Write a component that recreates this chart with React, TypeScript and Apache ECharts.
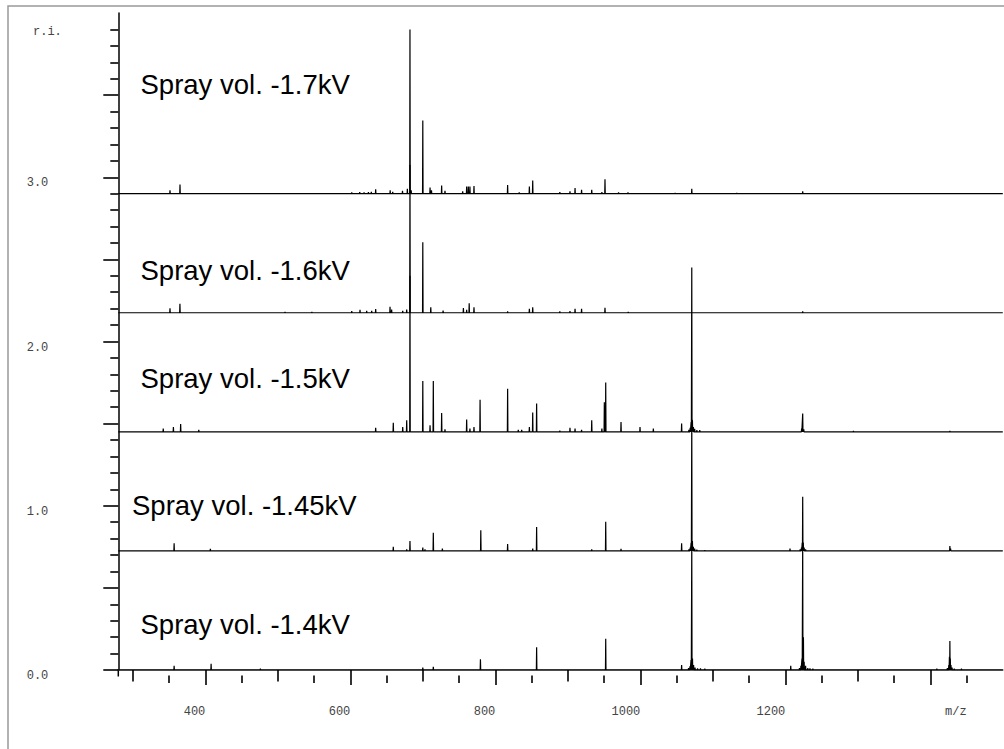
import React, { useEffect, useRef } from "react";
import * as echarts from "echarts";

// ---- data ----
const spectrumLabels = [
  "Spray vol. -1.7kV",
  "Spray vol. -1.6kV",
  "Spray vol. -1.5kV",
  "Spray vol. -1.45kV",
  "Spray vol. -1.4kV",
];
// vertical stacking offset of each spectrum (r.i. units)
const spectrumOffsets = [2.9, 2.175, 1.45, 0.725, 0];

// [m/z, relative intensity above own baseline]
const peaks17: [number, number][] = [
  [351.3, 0.02], [365.1, 0.055], [602, 0.008], [613, 0.01], [619, 0.008], [625, 0.01], [629, 0.012],
  [635, 0.026], [655, 0.02], [658.5, 0.012], [672, 0.018], [678.7, 0.03], [682.3, 1.0], [684, 0.02],
  [700, 0.446], [710, 0.037], [712, 0.02], [726, 0.05], [730.6, 0.018], [755, 0.015], [760.5, 0.043],
  [762.8, 0.043], [765, 0.043], [770.6, 0.047], [817, 0.053], [833, 0.008], [847, 0.043], [851.6, 0.08],
  [889, 0.01], [903, 0.015], [910, 0.035], [919, 0.024], [933, 0.024], [947, 0.01], [951.3, 0.087],
  [970, 0.008], [983, 0.008], [1048, 0.005], [1071, 0.03], [1133, 0.005], [1224, 0.014],
];
const peaks16: [number, number][] = [
  [351.3, 0.027], [365, 0.054], [510, 0.005], [547, 0.005], [602, 0.01], [613.4, 0.018], [622.6, 0.012],
  [629.5, 0.012], [635, 0.023], [654.8, 0.037], [657, 0.02], [672.3, 0.012], [677.8, 0.02], [682.3, 0.9],
  [700, 0.43], [711, 0.034], [728, 0.014], [756, 0.028], [760.5, 0.018], [764, 0.058], [770.6, 0.034],
  [817, 0.008], [847, 0.024], [851.6, 0.034], [889, 0.008], [903, 0.01], [910, 0.024], [919, 0.024],
  [951.3, 0.031], [983.4, 0.005], [1224, 0.008],
];
const peaks15: [number, number][] = [
  [342, 0.02], [356, 0.03], [366, 0.047], [391, 0.012], [635, 0.025], [659.3, 0.055], [672.3, 0.03],
  [677.8, 0.07], [682.3, 0.95], [700, 0.31], [710, 0.04], [714.5, 0.31], [726, 0.114], [730.6, 0.015],
  [760.5, 0.075], [765, 0.02], [770.6, 0.03], [779, 0.195], [817, 0.262], [831.7, 0.012], [836.4, 0.012],
  [847, 0.03], [851.6, 0.118], [857, 0.172], [889, 0.008], [903, 0.025], [910, 0.02], [919, 0.012],
  [933, 0.07], [947, 0.02], [950.4, 0.18], [952.3, 0.3], [973.4, 0.06], [999.6, 0.03], [1018, 0.02],
  [1057, 0.05], [1067, 0.012], [1068.8, 0.025], [1070.1, 0.06], [1071, 1.0], [1071.9, 0.07],
  [1073.2, 0.03], [1075, 0.018], [1078, 0.01], [1082, 0.01], [1222.5, 0.02], [1224, 0.112],
  [1225.5, 0.015], [1294, 0.005], [1427, 0.005],
];
const peaks145: [number, number][] = [
  [357, 0.046], [407, 0.012], [659.3, 0.025], [677.8, 0.01], [682.3, 0.061], [700, 0.02], [703, 0.01],
  [714.5, 0.11], [727, 0.015], [780, 0.126], [817, 0.042], [851.6, 0.015], [857, 0.146], [933, 0.01],
  [952.3, 0.177], [973.4, 0.012], [1057, 0.046], [1067, 0.01], [1068.8, 0.02], [1070.1, 0.05],
  [1071, 0.8], [1071.9, 0.06], [1073.2, 0.025], [1075, 0.015], [1078, 0.008], [1089, 0.005],
  [1206.5, 0.015], [1220.5, 0.01], [1222.3, 0.02], [1223.3, 0.05], [1224, 0.33], [1224.8, 0.05],
  [1226, 0.02], [1228, 0.01], [1427, 0.03], [1428, 0.015],
];
const peaks14: [number, number][] = [
  [357, 0.025], [408, 0.038], [476, 0.008], [700, 0.015], [714.5, 0.02], [779.5, 0.065], [857, 0.138],
  [952.3, 0.19], [1057, 0.03], [1066.5, 0.012], [1068.5, 0.022], [1070, 0.06], [1071, 0.78],
  [1072, 0.07], [1073.5, 0.03], [1075.5, 0.015], [1079, 0.01], [1083, 0.01], [1089, 0.008],
  [1207.5, 0.025], [1219.5, 0.012], [1221.5, 0.025], [1223, 0.07], [1224, 0.78], [1225, 0.2],
  [1226, 0.05], [1228, 0.025], [1231, 0.012], [1234, 0.01], [1238, 0.008], [1409, 0.008],
  [1423.5, 0.012], [1425.5, 0.03], [1426.4, 0.08], [1427, 0.177], [1427.6, 0.07], [1428.5, 0.03],
  [1430, 0.015], [1433, 0.008], [1443, 0.008],
];
const spectra = [peaks17, peaks16, peaks15, peaks145, peaks14];

const xMin = 280;
const xMax = 1500;
const xMajorTicks = [400, 600, 800, 1000, 1200, 1400];
const xLabelValues = [400, 600, 800, 1000, 1200];
const xMidTicks = [300, 500, 700, 900, 1100, 1300];
const xMinorTicks = [350, 450, 550, 650, 750, 850, 950, 1050, 1150, 1250, 1350, 1450];

const yMin = 0;
const yMax = 4;
const yMajorTicks = [0, 0.5, 1, 1.5, 2, 2.5, 3, 3.5];
const yLabelValues = [0, 1, 2, 3];
const yMinorTicks = [
  0.1, 0.2, 0.3, 0.4, 0.6, 0.7, 0.8, 0.9, 1.1, 1.2, 1.3, 1.4, 1.6, 1.7, 1.8, 1.9,
  2.1, 2.2, 2.3, 2.4, 2.6, 2.7, 2.8, 2.9, 3.1, 3.2, 3.3, 3.4, 3.6, 3.7, 3.8, 3.9,
];

const monoFont = '"Liberation Mono", "Courier New", monospace';
const sansFont = '"Liberation Sans", Arial, Helvetica, sans-serif';

function buildLine(peaks: [number, number][], offset: number) {
  const pts: number[][] = [[xMin, offset]];
  const sorted = [...peaks].sort((a, b) => a[0] - b[0]);
  for (const [mz, h] of sorted) {
    pts.push([mz - 0.35, offset], [mz, offset + h], [mz + 0.35, offset]);
  }
  pts.push([xMax, offset]);
  return pts;
}

const labelPos = [
  { x: 140.5, y: 84 },
  { x: 140.5, y: 270.6 },
  { x: 140.5, y: 378 },
  { x: 132, y: 505.6 },
  { x: 140.5, y: 624 },
];

export default function App() {
  const ref = useRef<HTMLDivElement>(null);
  useEffect(() => {
    if (!ref.current) return;
    const chart = echarts.init(ref.current, null, { renderer: "svg" });

    const baseX = {
      type: "value",
      min: xMin,
      max: xMax,
      position: "bottom",
      offset: 5.5,
      splitLine: { show: false },
    };
    const baseY = {
      type: "value",
      min: yMin,
      max: yMax,
      position: "left",
      splitLine: { show: false },
    };

    const option: any = {
      animation: false,
      backgroundColor: "#ffffff",
      grid: {
        left: 118.3,
        right: 1.2,
        top: 13,
        bottom: 79,
        containLabel: false,
        outerBoundsMode: "none",
      },
      xAxis: [
        {
          ...baseX,
          axisLine: { show: true, lineStyle: { color: "#333", width: 1.5 } },
          axisTick: { show: true, length: 15, customValues: xMajorTicks, lineStyle: { color: "#000", width: 1.6 } },
          axisLabel: {
            show: true,
            customValues: xLabelValues,
            formatter: (v: number) => String(v),
            align: "right",
            margin: 30,
            fontFamily: monoFont,
            fontSize: 12,
            color: "#444",
          },
        },
        {
          ...baseX,
          axisLine: { show: false },
          axisTick: { show: true, length: 11.5, customValues: xMidTicks, lineStyle: { color: "#000", width: 1.6 } },
          axisLabel: { show: false },
        },
        {
          ...baseX,
          axisLine: { show: false },
          axisTick: { show: true, length: 7.5, customValues: xMinorTicks, lineStyle: { color: "#000", width: 1.6 } },
          axisLabel: { show: false },
        },
      ],
      yAxis: [
        {
          ...baseY,
          axisLine: { show: true, lineStyle: { color: "#000", width: 1.5 } },
          axisTick: { show: true, length: 15, customValues: yMajorTicks, lineStyle: { color: "#000", width: 1.6 } },
          axisLabel: {
            show: true,
            customValues: yLabelValues,
            formatter: (v: number) => v.toFixed(1),
            margin: 70,
            verticalAlign: "top",
            fontFamily: monoFont,
            fontSize: 12,
            color: "#444",
          },
        },
        {
          ...baseY,
          axisLine: { show: false },
          axisTick: { show: true, length: 8, customValues: yMinorTicks, lineStyle: { color: "#000", width: 1.6 } },
          axisLabel: { show: false },
        },
      ],
      series: spectra.map((p, i) => ({
        name: spectrumLabels[i],
        type: "line",
        xAxisIndex: 0,
        yAxisIndex: 0,
        data: buildLine(p, spectrumOffsets[i]),
        showSymbol: false,
        symbol: "none",
        lineStyle: { color: "#000", width: 1.2 },
        silent: true,
        clip: true,
      })),
      graphic: [
        {
          type: "rect",
          shape: { x: 8, y: 6, width: 1200, height: 1000 },
          style: { fill: "none", stroke: "#999", lineWidth: 1.5 },
          silent: true,
        },
        {
          type: "line",
          shape: { x1: 118.3, y1: 669, x2: 118.3, y2: 676.5 },
          style: { stroke: "#000", lineWidth: 1.5 },
          silent: true,
        },
        {
          type: "text",
          x: 33,
          y: 32,
          style: {
            text: "r.i.",
            font: `12px ${monoFont}`,
            fill: "#444",
            align: "left",
            textAlign: "left",
            verticalAlign: "middle",
            textVerticalAlign: "middle",
          },
        },
        {
          type: "text",
          x: 945,
          y: 711.7,
          style: {
            text: "m/z",
            font: `12px ${monoFont}`,
            fill: "#444",
            align: "left",
            textAlign: "left",
            verticalAlign: "middle",
            textVerticalAlign: "middle",
          },
        },
        ...spectrumLabels.map((t, i) => ({
          type: "text",
          x: labelPos[i].x,
          y: labelPos[i].y,
          style: {
            text: t,
            font: `27.5px ${sansFont}`,
            fill: "#000",
            align: "left",
            textAlign: "left",
            verticalAlign: "middle",
            textVerticalAlign: "middle",
          },
        })),
      ],
    };

    chart.setOption(option);
    return () => chart.dispose();
  }, []);

  return (
    <div
      ref={ref}
      style={{ position: "fixed", left: 0, top: 0, width: 1004, height: 749, background: "#fff" }}
    />
  );
}
